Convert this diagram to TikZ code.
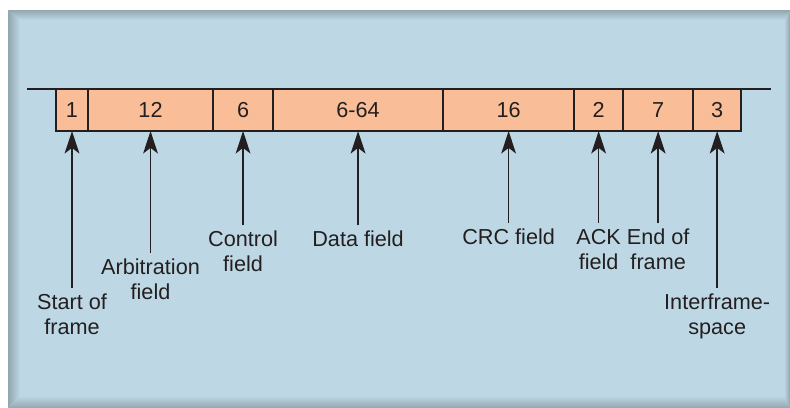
\documentclass[tikz,border=0pt]{standalone}
\usepackage{fontspec}
\setmainfont{Liberation Sans}
\usetikzlibrary{arrows.meta,positioning}
\definecolor{panel}{RGB}{189,216,228}
\definecolor{bevel}{RGB}{146,166,176}
\definecolor{field}{RGB}{249,190,152}
\definecolor{ink}{RGB}{35,31,32}

\begin{document}
\begin{tikzpicture}[x=0.025cm,y=-0.025cm,node distance=0pt,
  fld/.style={draw=ink,fill=field,line width=1pt,outer sep=0pt,inner sep=0pt,minimum height=1.05cm,text=ink},
  lab/.style={align=center,inner sep=4pt,text=ink},
  arr/.style={-{Stealth[length=16pt,width=10.5pt,inset=4pt]},line width=1.2pt,draw=ink},
  font=\fontsize{15.4pt}{17.8pt}\selectfont]
\useasboundingbox (0,0) rectangle (790,408);
% panel with bevelled rim
\fill[panel] (8,10) rectangle (790,408);
\shade[left color=bevel,right color=panel] (8,10) -- (20,20) -- (20,396) -- (8,408) -- cycle;
\shade[top color=bevel,bottom color=panel] (8,10) -- (790,10) -- (784,20) -- (20,20) -- cycle;
\shade[top color=panel,bottom color=bevel] (20,396) -- (784,396) -- (790,408) -- (8,408) -- cycle;
\shade[left color=panel,right color=bevel] (784,20) -- (790,10) -- (790,408) -- (784,396) -- cycle;

% frame fields
\node[fld,minimum width=0.8cm,anchor=north west] (f1) at (56,89) {1};
\node[fld,minimum width=3.125cm,right=of f1] (f2) {12};
\node[fld,minimum width=1.5cm,right=of f2] (f3) {6};
\node[fld,minimum width=4.25cm,right=of f3] (f4) {6-64};
\node[fld,minimum width=3.275cm,right=of f4] (f5) {16};
\node[fld,minimum width=1.225cm,right=of f5] (f6) {2};
\node[fld,minimum width=1.75cm,right=of f6] (f7) {7};
\node[fld,minimum width=1.2cm,right=of f7] (f8) {3};
\coordinate (busl) at (27,89);
\coordinate (busr) at (771,89);
\draw[ink,line width=1pt] (busl) -- (busr);

% labels
\node[lab,below=3.925cm of f1] (sof) {Start of\\frame};
\node[lab,below=3.05cm of f2] (arb) {Arbitration\\field};
\node[lab,below=2.35cm of f3] (ctl) {Control\\field};
\node[lab,below=2.35cm of f4] (dat) {Data field};
\node[lab,below=2.3cm of f5] (crc) {CRC field};
\node[lab,below=2.3cm of f6] (ack) {ACK\\field};
\node[lab,below=2.3cm of f7] (eof) {End of\\frame};
\node[lab,below=3.925cm of f8] (ifs) {Interframe-\\space};

\draw[arr] (sof) -- (f1);
\draw[arr] (arb) -- (f2);
\draw[arr] (ctl) -- (f3);
\draw[arr] (dat) -- (f4);
\draw[arr] (crc) -- (f5);
\draw[arr] (ack) -- (f6);
\draw[arr] (eof) -- (f7);
\draw[arr] (ifs) -- (f8);
\end{tikzpicture}
\end{document}
